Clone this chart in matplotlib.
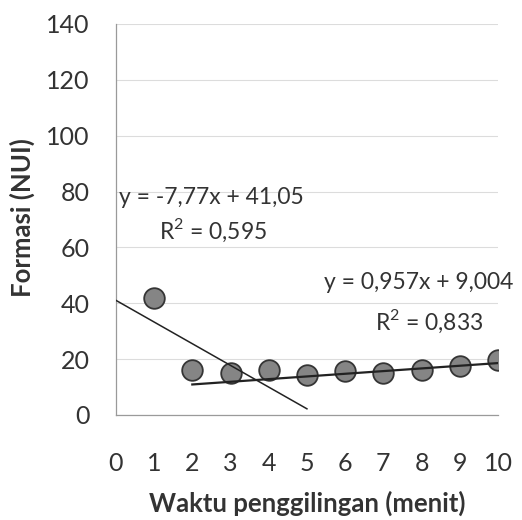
import numpy as np
import matplotlib.pyplot as plt

plt.rcParams['font.family'] = ['Lato', 'DejaVu Sans']
plt.rcParams['mathtext.fontset'] = 'custom'
plt.rcParams['mathtext.rm'] = 'Lato'

waktu = [1, 2, 3, 4, 5, 6, 7, 8, 9, 10]
formasi = [41.8, 16.1, 15.0, 16.0, 14.3, 15.8, 15.0, 16.1, 17.5, 19.5]

# trendline coefficients as reported on the chart
tren1 = (-7.77, 41.05)
tren1_x = [0, 5]
tren2 = (0.957, 9.004)
tren2_x = [2, 10]

fig = plt.figure(figsize=(5.22, 5.20), dpi=100)
ax = fig.add_axes([0.222, 0.202, 0.732, 0.752])

ax.set_axisbelow(True)
ax.grid(axis="y", color="#dcdcdc", linewidth=0.8)
ax.scatter(waktu, formasi, s=220, color="#858585", edgecolor="#353535",
           linewidth=1.3, zorder=3)

x1 = np.array(tren1_x)
ax.plot(x1, tren1[0] * x1 + tren1[1], color="#222222", linewidth=1.1, zorder=4)
x2 = np.array(tren2_x)
ax.plot(x2, tren2[0] * x2 + tren2[1], color="#222222", linewidth=1.6, zorder=4)

ax.set_xlim(0, 10)
ax.set_ylim(0, 140)
ax.set_xticks(range(0, 11))
ax.set_yticks(range(0, 141, 20))
ax.tick_params(axis="both", length=0, labelsize=18, colors="#333333")
ax.tick_params(axis="x", pad=27)
ax.tick_params(axis="y", pad=19)
for side in ["top", "right"]:
    ax.spines[side].set_visible(False)
for side in ["left", "bottom"]:
    ax.spines[side].set_color("#9a9a9a")
    ax.spines[side].set_linewidth(0.9)

ax.text(0.08, 78, "y = -7,77x + 41,05", fontsize=16.5, color="#333333", va="center")
ax.text(2.55, 66, r"R$^\mathregular{2}$ = 0,595", fontsize=16.5, color="#333333",
        va="center", ha="center")
ax.text(10.4, 47.5, "y = 0,957x + 9,004", fontsize=16.5, color="#333333", va="center", ha="right")
ax.text(8.2, 33.5, r"R$^\mathregular{2}$ = 0,833", fontsize=16.5, color="#333333",
        va="center", ha="center")

fig.text(22 / 522, 1 - 218 / 520, "Formasi (NUI)", rotation=90, fontsize=18.5,
         fontweight="bold", color="#333333", ha="center", va="center")
fig.text(307 / 522, 1 - 503 / 520, "Waktu penggilingan (menit)", fontsize=18.5,
         fontweight="bold", color="#333333", ha="center", va="center")

fig.savefig("out.png", dpi=100)
